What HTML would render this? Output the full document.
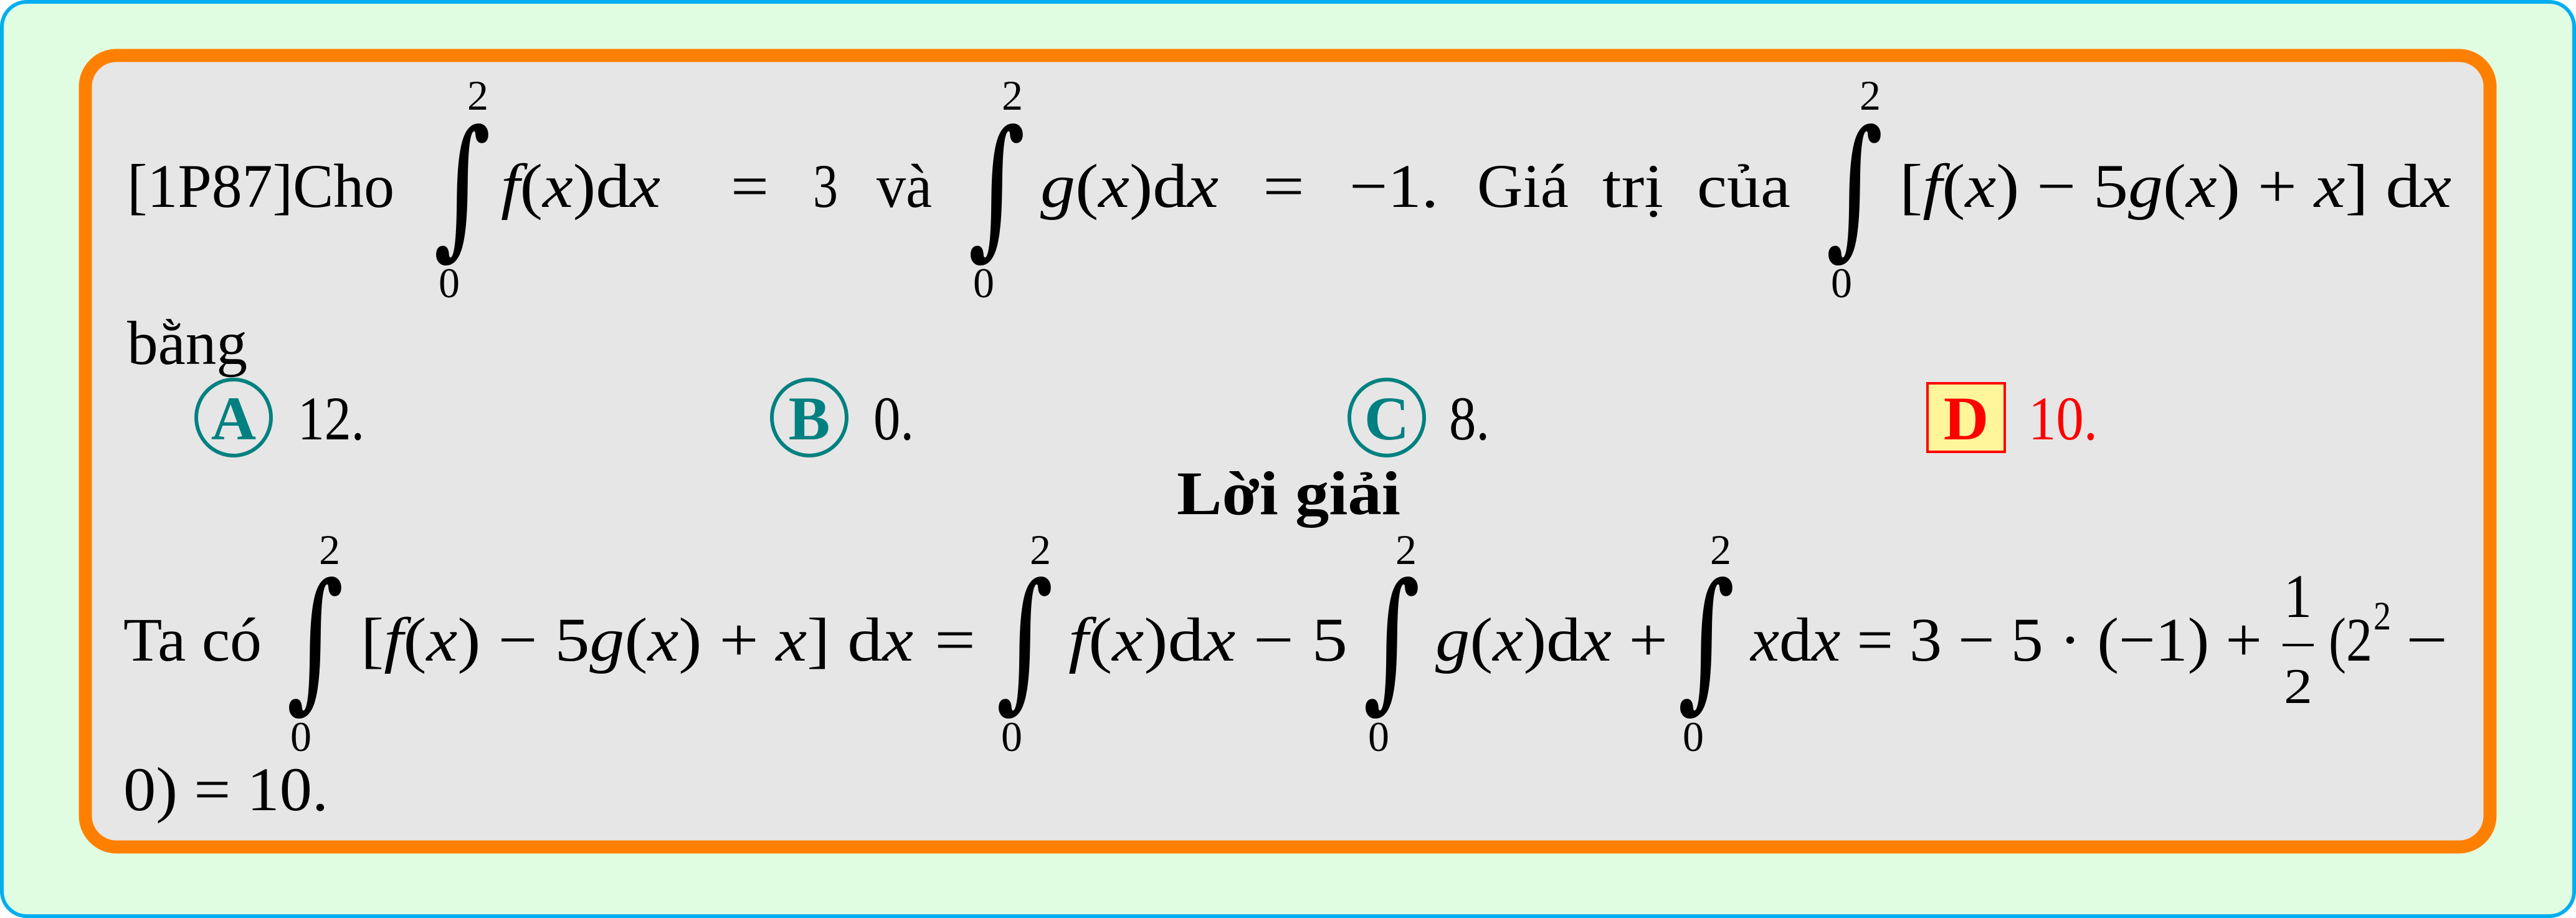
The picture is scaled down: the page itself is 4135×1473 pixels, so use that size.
<!DOCTYPE html>
<html><head><meta charset="utf-8"><style>
html,body{margin:0;padding:0;background:#fff}
svg{display:block}
text{font-family:"Liberation Serif",serif;fill:#000}
.m{font-size:100px}
.l{font-size:68px}
.i{font-style:italic}
.int{font-family:"DejaVu Serif",serif;font-size:150px}
</style></head><body>
<svg width="4135" height="1473" viewBox="0 0 4135 1473" xmlns="http://www.w3.org/2000/svg">
<rect x="3" y="3" width="4129" height="1467" rx="40" fill="#e1fde1" stroke="#00aeef" stroke-width="6"/>
<rect x="137" y="89" width="3860" height="1270" rx="50" fill="#e6e6e6" stroke="#ff8000" stroke-width="21"/>

<g>
<text class="m" x="204" y="332" textLength="429" lengthAdjust="spacingAndGlyphs">[1P87]Cho</text>
<g>
<text class="int" transform="translate(696,382) scale(1,1.62)" x="0" y="0" textLength="92" lengthAdjust="spacingAndGlyphs">∫</text>
<text class="l" x="750" y="176">2</text><text class="l" x="704" y="477">0</text></g>
<text class="m" x="804" y="332" textLength="256" lengthAdjust="spacingAndGlyphs"><tspan class="i">f</tspan>(<tspan class="i">x</tspan>)d<tspan class="i">x</tspan></text>
<text class="m" x="1173" y="332" textLength="61" lengthAdjust="spacingAndGlyphs">=</text>
<text class="m" x="1305" y="332" textLength="40" lengthAdjust="spacingAndGlyphs">3</text>
<text class="m" x="1407" y="332" textLength="89" lengthAdjust="spacingAndGlyphs">và</text>
<g>
<text class="int" transform="translate(1554,382) scale(1,1.62)" x="0" y="0" textLength="92" lengthAdjust="spacingAndGlyphs">∫</text>
<text class="l" x="1608" y="176">2</text><text class="l" x="1562" y="477">0</text></g>
<text class="m" x="1670" y="332" textLength="286" lengthAdjust="spacingAndGlyphs"><tspan class="i">g</tspan>(<tspan class="i">x</tspan>)d<tspan class="i">x</tspan></text>
<text class="m" x="2027" y="332" textLength="67" lengthAdjust="spacingAndGlyphs">=</text>
<text class="m" x="2166" y="332" textLength="143" lengthAdjust="spacingAndGlyphs">−1.</text>
<text class="m" x="2371" y="332" textLength="147" lengthAdjust="spacingAndGlyphs">Giá</text>
<text class="m" x="2572" y="332" textLength="98" lengthAdjust="spacingAndGlyphs">trị</text>
<text class="m" x="2724" y="332" textLength="150" lengthAdjust="spacingAndGlyphs">của</text>
<g>
<text class="int" transform="translate(2931,382) scale(1,1.62)" x="0" y="0" textLength="92" lengthAdjust="spacingAndGlyphs">∫</text>
<text class="l" x="2985" y="176">2</text><text class="l" x="2939" y="477">0</text></g>
<text class="m" x="3049" y="332" textLength="886" lengthAdjust="spacingAndGlyphs">[<tspan class="i">f</tspan>(<tspan class="i">x</tspan>) − 5<tspan class="i">g</tspan>(<tspan class="i">x</tspan>) + <tspan class="i">x</tspan>] d<tspan class="i">x</tspan></text>
<text class="m" x="204" y="584" textLength="193" lengthAdjust="spacingAndGlyphs">bằng</text>
</g>

<g>
<ellipse cx="375" cy="670" rx="60" ry="61" fill="none" stroke="#008080" stroke-width="6"/>
<text class="m" x="375" y="705" text-anchor="middle" font-weight="bold" style="fill:#008080">A</text>
<text class="m" x="478" y="705" textLength="107" lengthAdjust="spacingAndGlyphs">12.</text></g>
<g>
<ellipse cx="1299" cy="670" rx="60" ry="61" fill="none" stroke="#008080" stroke-width="6"/>
<text class="m" x="1299" y="705" text-anchor="middle" font-weight="bold" style="fill:#008080">B</text>
<text class="m" x="1402" y="705" textLength="65" lengthAdjust="spacingAndGlyphs">0.</text></g>
<g>
<ellipse cx="2226" cy="670" rx="60" ry="61" fill="none" stroke="#008080" stroke-width="6"/>
<text class="m" x="2226" y="705" text-anchor="middle" font-weight="bold" style="fill:#008080">C</text>
<text class="m" x="2326" y="705" textLength="65" lengthAdjust="spacingAndGlyphs">8.</text></g>
<g>
<rect x="3094" y="615" width="124" height="110" fill="#fff59a" stroke="#ff0000" stroke-width="4"/>
<text class="m" x="3156" y="705" text-anchor="middle" font-weight="bold" style="fill:#ff0000">D</text>
<text class="m" x="3256" y="705" textLength="111" lengthAdjust="spacingAndGlyphs" style="fill:#ff0000">10.</text></g>

<text class="m" x="1889" y="825" font-weight="bold" textLength="359" lengthAdjust="spacingAndGlyphs">Lời giải</text>

<g>
<text class="m" x="198" y="1060" textLength="222" lengthAdjust="spacingAndGlyphs">Ta có</text>
<text class="int" transform="translate(460,1109) scale(1,1.62)" x="0" y="0" textLength="92" lengthAdjust="spacingAndGlyphs">∫</text>
<text class="l" x="512" y="905">2</text><text class="l" x="466" y="1205">0</text>
<text class="m" x="579" y="1060" textLength="887" lengthAdjust="spacingAndGlyphs">[<tspan class="i">f</tspan>(<tspan class="i">x</tspan>) − 5<tspan class="i">g</tspan>(<tspan class="i">x</tspan>) + <tspan class="i">x</tspan>] d<tspan class="i">x</tspan></text>
<text class="m" x="1500" y="1060" textLength="66" lengthAdjust="spacingAndGlyphs">=</text>
<text class="int" transform="translate(1599,1109) scale(1,1.62)" x="0" y="0" textLength="92" lengthAdjust="spacingAndGlyphs">∫</text>
<text class="l" x="1653" y="905">2</text><text class="l" x="1607" y="1205">0</text>
<text class="m" x="1715" y="1060" textLength="448" lengthAdjust="spacingAndGlyphs"><tspan class="i">f</tspan>(<tspan class="i">x</tspan>)d<tspan class="i">x</tspan> − 5</text>
<text class="int" transform="translate(2188,1109) scale(1,1.62)" x="0" y="0" textLength="92" lengthAdjust="spacingAndGlyphs">∫</text>
<text class="l" x="2240" y="905">2</text><text class="l" x="2196" y="1205">0</text>
<text class="m" x="2304" y="1060" textLength="373" lengthAdjust="spacingAndGlyphs"><tspan class="i">g</tspan>(<tspan class="i">x</tspan>)d<tspan class="i">x</tspan> +</text>
<text class="int" transform="translate(2693,1109) scale(1,1.62)" x="0" y="0" textLength="92" lengthAdjust="spacingAndGlyphs">∫</text>
<text class="l" x="2745" y="905">2</text><text class="l" x="2701" y="1205">0</text>
<text class="m" x="2810" y="1060" textLength="821" lengthAdjust="spacingAndGlyphs"><tspan class="i">x</tspan>d<tspan class="i">x</tspan> = 3 − 5 · (−1) +</text>
<text class="m" x="3666" y="990" font-size="90" textLength="45" lengthAdjust="spacingAndGlyphs">1</text>
<rect x="3664" y="1033" width="50" height="4" fill="#000"/>
<text x="3666" y="1128" font-size="80" textLength="46" lengthAdjust="spacingAndGlyphs">2</text>
<text class="m" x="3738" y="1060" textLength="70" lengthAdjust="spacingAndGlyphs">(2</text>
<text x="3810" y="1010" font-size="65" textLength="28" lengthAdjust="spacingAndGlyphs">2</text>
<text class="m" x="3862" y="1060" textLength="67" lengthAdjust="spacingAndGlyphs">−</text>
<text class="m" x="198" y="1300" textLength="329" lengthAdjust="spacingAndGlyphs">0) = 10.</text>
</g>
</svg>
</body></html>
